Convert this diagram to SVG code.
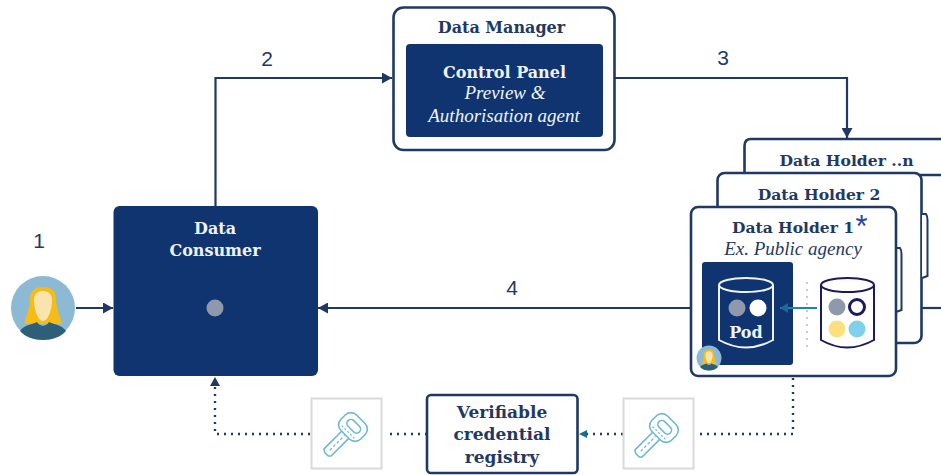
<svg xmlns="http://www.w3.org/2000/svg" xmlns:xlink="http://www.w3.org/1999/xlink" width="941" height="475" viewBox="0 0 941 475">
<style>
.card{fill:#fff;stroke:#1f3864;stroke-width:2.6}
.dark{fill:#0f3470}
.t{font-family:"DejaVu Serif","Liberation Serif",serif;font-weight:700;text-anchor:middle}
.nv{fill:#1f3864}
.wh{fill:#eef3fa}
.i{font-family:"Liberation Serif",serif;font-style:italic;font-size:19px;text-anchor:middle}
.n{font-family:"Liberation Sans",sans-serif;font-size:21px;fill:#1f3864;text-anchor:middle}
.ln{fill:none;stroke:#1f3864;stroke-width:2.2}
.dot{fill:none;stroke:#1f3864;stroke-width:2.4;stroke-dasharray:2 5}
.keybox{fill:#fff;stroke:#d9d9d9;stroke-width:2}
</style>
<defs>
<marker id="a" markerUnits="userSpaceOnUse" markerWidth="11" markerHeight="11" refX="10" refY="5.500" orient="auto"><path d="M0 0L10 5.500L0 11z" fill="#1f3864"/></marker>
<marker id="b" markerUnits="userSpaceOnUse" markerWidth="9" markerHeight="10" refX="8" refY="5" orient="auto"><path d="M0 0L8 5L0 10z" fill="#1a6a9a"/></marker>
<g id="key" fill="none" stroke="#6db8d2" stroke-width="1.6" stroke-linejoin="round">
<g transform="rotate(-45)">
<path d="M-10 -5H-36L-38 -2V3L-36 5H-10" fill="#fff"/>
<path d="M-33 0H-12" stroke-dasharray="3 2" stroke-width="1.200"/>
<rect x="-11" y="-14" width="22" height="28" rx="8" fill="#fff"/>
<rect x="-3" y="-8" width="8" height="16" rx="4"/>
<path d="M-7 -9V9" stroke-dasharray="2 2" stroke-width="1.200"/>
</g>
</g>
<g id="person">
<circle r="32" fill="#8cb9d4"/>
<path d="M-19 16C-17 8 -13 0 -13 -10C-13 -18 -7 -21 0 -21C7 -21 13 -18 13 -10C13 0 17 8 19 16z" fill="#f6bc16"/>
<path d="M-9 -8C-9 -15 -4 -17 0 -17C4 -17 9 -15 9 -8C9 2 5 13 0 13C-5 13 -9 2 -9 -8z" fill="#fbe3ad"/>
<path d="M-23 23C-19 17 -10 16 -6 14C-3 19 3 19 6 14C10 16 19 17 23 23C13 35 -13 35 -23 23z" fill="#2e5f78"/>
</g>
</defs>

<g id="connectors">
<path class="ln" d="M76 308H113" marker-end="url(#a)"/>
<path class="ln" d="M215.500 206V78H392" marker-end="url(#a)"/>
<path class="ln" d="M615 78H847V138" marker-end="url(#a)"/>
<path class="ln" d="M691 308H318" marker-end="url(#a)"/>
<path class="ln" d="M922 308H941"/>
<path class="dot" d="M793 378V434H698"/>
<path class="dot" d="M623 434H586"/>
<path d="M587 430L579 434L587 438z" fill="#1a6a9a"/>
<path class="dot" d="M427 434H386"/>
<path class="dot" d="M310 434H215V386"/>
<path d="M210 386L215 377L220 386z" fill="#1f3864"/>
</g>

<g id="n-person"><use xlink:href="#person" x="43" y="308"/></g>
<text class="n" x="39" y="248">1</text>
<text class="n" x="267" y="66">2</text>
<text class="n" x="723" y="65">3</text>
<text class="n" x="512" y="295">4</text>

<g id="n-consumer">
<rect class="dark" x="113.500" y="206" width="204.500" height="170" rx="6"/>
<text class="t wh" x="215" y="234" font-size="16">Data</text>
<text class="t wh" x="215" y="256" font-size="16">Consumer</text>
<circle cx="215" cy="308" r="8.500" fill="#8f99ab"/>
</g>

<g id="n-manager">
<rect class="card" x="393.500" y="7.500" width="221" height="142.500" rx="10"/>
<text class="t nv" x="501.500" y="33" font-size="16">Data Manager</text>
<rect class="dark" x="406" y="44" width="197" height="93" rx="4"/>
<text class="t wh" x="504.500" y="78" font-size="16">Control Panel</text>
<text class="i wh" x="505" y="99">Preview &amp;</text>
<text class="i wh" x="504" y="122">Authorisation agent</text>
</g>

<g id="n-holder-n">
<path class="card" d="M941 139H751Q744.500 139 744.500 146V175H941"/>
<text class="t nv" x="846.500" y="166" font-size="15.600">Data Holder ..n</text>
</g>

<g id="n-holder-2">
<rect class="card" x="717.500" y="173" width="204" height="170" rx="7"/>
<text class="t nv" x="819" y="200" font-size="15.600">Data Holder 2</text>
<path d="M922 214H926Q927.500 216 927.500 220V276L922 278" fill="#fff" stroke="#1f3864" stroke-width="2"/>
</g>

<g id="n-holder-1">
<path d="M896 248H900Q901.500 250 901.500 254V310L896 312" fill="#fff" stroke="#1f3864" stroke-width="2"/>
<rect class="card" x="691" y="207" width="205" height="169" rx="7"/>
<text class="t nv" x="793" y="233" font-size="15.500">Data Holder 1</text>
<text x="861.500" y="237" font-family="Liberation Sans,sans-serif" font-size="31" fill="#2a3fa5" text-anchor="middle">*</text>
<text class="i" x="793" y="255" fill="#1f3864">Ex. Public agency</text>
<rect class="dark" x="702" y="262" width="91" height="103" rx="3"/>
<g fill="none" stroke="#eef3fa" stroke-width="2">
<ellipse cx="746" cy="285" rx="27" ry="7"/>
<path d="M719 285V340Q746 355 773 340V285"/>
</g>
<circle cx="737" cy="308" r="8.500" fill="#8f99ab"/>
<circle cx="758" cy="308" r="8.500" fill="#fff"/>
<text class="t wh" x="746" y="338" font-size="16">Pod</text>
<path d="M807 282V350" fill="none" stroke="#c3ccd8" stroke-width="2" stroke-dasharray="2 5"/>
<path d="M817 308H780" fill="none" stroke="#1a86ad" stroke-width="2.200" marker-end="url(#b)"/>
<g fill="#fff" stroke="#1a1a5e" stroke-width="2">
<path d="M821 285V340Q847 355 874 340V285"/>
<ellipse cx="847.500" cy="285" rx="26.500" ry="7"/>
</g>
<circle cx="837" cy="307" r="8.500" fill="#8f99ab"/>
<circle cx="857" cy="307" r="7.500" fill="#fff" stroke="#1a1a5e" stroke-width="3"/>
<circle cx="837" cy="329" r="8.500" fill="#fde07e"/>
<circle cx="857" cy="329" r="8.500" fill="#7fd0ea"/>
<use xlink:href="#person" transform="translate(709 358) scale(.39)"/>
</g>

<g id="n-key-left">
<rect class="keybox" x="311.500" y="398.500" width="70" height="70"/>
<use xlink:href="#key" x="353" y="427"/>
</g>
<g id="n-key-right">
<rect class="keybox" x="623.500" y="398.500" width="70" height="70"/>
<use xlink:href="#key" x="664" y="428"/>
</g>

<g id="n-registry">
<rect class="card" x="427" y="395" width="150.500" height="78" rx="4"/>
<text class="t nv" x="502" y="418" font-size="17">Verifiable</text>
<text class="t nv" x="502" y="440" font-size="17">credential</text>
<text class="t nv" x="502" y="463" font-size="17">registry</text>
</g>
</svg>
